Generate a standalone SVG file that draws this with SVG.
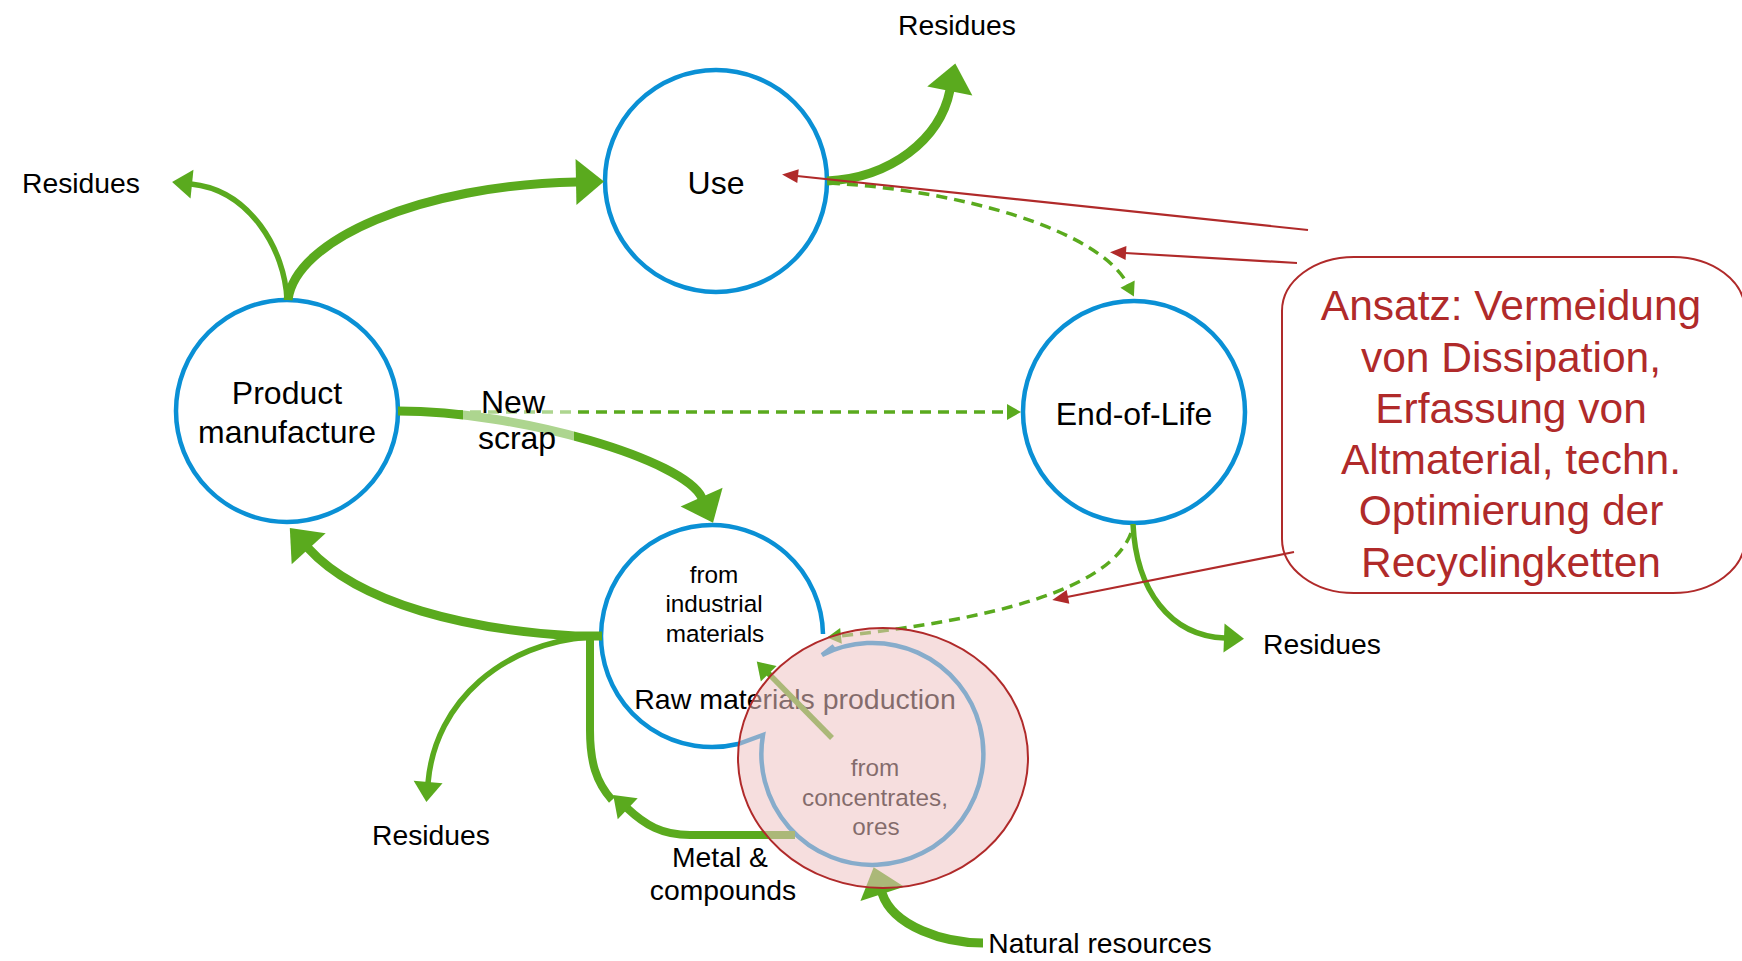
<svg xmlns="http://www.w3.org/2000/svg" width="1742" height="961" viewBox="0 0 1742 961">
<defs>
<style>
.node{fill:#fff;stroke:#0a90d5;stroke-width:4.5}
.arc{fill:none;stroke:#0a90d5;stroke-width:4.5}
.flow{fill:none;stroke:#5aaa1e}
.thick{stroke-width:9}
.mid{stroke-width:5.5}
.dash{stroke-width:3.5;stroke-dasharray:11 7}
.red{fill:none;stroke:#b02a2a;stroke-width:2.2}
text{font-family:"Liberation Sans",Arial,Helvetica,sans-serif;fill:#000;text-anchor:middle}
.lbl{font-size:32px}
.res{font-size:28.3px}
.small{font-size:24.3px}
.call{font-size:42.5px;fill:#b02a2a}
</style>
<marker id="ahBig" markerUnits="userSpaceOnUse" markerWidth="28" markerHeight="46" refX="1" refY="23" orient="auto" overflow="visible"><path d="M0,0 L28,23 L0,46 Z" fill="#5aaa1e"/></marker>
<marker id="ahMed" markerUnits="userSpaceOnUse" markerWidth="20" markerHeight="29" refX="1" refY="14.5" orient="auto" overflow="visible"><path d="M0,0 L20,14.5 L0,29 Z" fill="#5aaa1e"/></marker>
<marker id="ahInner" markerUnits="userSpaceOnUse" markerWidth="17" markerHeight="22" refX="1" refY="11" orient="auto" overflow="visible"><path d="M0,0 L17,11 L0,22 Z" fill="#5aaa1e"/></marker>
<marker id="ahSm" markerUnits="userSpaceOnUse" markerWidth="14" markerHeight="16" refX="1" refY="8" orient="auto" overflow="visible"><path d="M0,0 L14,8 L0,16 Z" fill="#5aaa1e"/></marker>
<marker id="ahRed" markerUnits="userSpaceOnUse" markerWidth="16" markerHeight="14" refX="1" refY="7" orient="auto" overflow="visible"><path d="M0,0 L16,7 L0,14 Z" fill="#b02a2a"/></marker>
</defs>
<rect width="1742" height="961" fill="#fff"/>

<g id="node-use">
<circle class="node" cx="716" cy="181" r="111"/>
<text class="lbl" x="716" y="194">Use</text>
</g>
<g id="node-product">
<circle class="node" cx="287" cy="411" r="111"/>
<text class="lbl" x="287" y="404">Product</text>
<text class="lbl" x="287" y="443">manufacture</text>
</g>
<g id="node-eol">
<circle class="node" cx="1134" cy="412" r="111"/>
<text class="lbl" x="1134" y="425">End-of-Life</text>
</g>
<g id="node-raw">
<path class="arc" d="M823,634 A111,111 0 1 0 738,744 L763,735 A111,111 0 1 0 822,655 L834,646"/>
<text class="small" x="714" y="583">from</text>
<text class="small" x="714" y="612">industrial</text>
<text class="small" x="715" y="642">materials</text>
<text x="795" y="709" style="font-size:28.5px">Raw materials production</text>
<text class="small" x="875" y="776">from</text>
<text class="small" x="875" y="806">concentrates,</text>
<text class="small" x="876" y="835">ores</text>
</g>

<g id="connectors">
<path class="flow thick" d="M288,300 C295,240 420,185 577,182" marker-end="url(#ahBig)"/>
<path class="flow mid" d="M287,300 C285,250 250,190 191,184" marker-end="url(#ahMed)"/>
<path class="flow thick" d="M827,181 C890,178 940,140 950,90" marker-end="url(#ahBig)"/>
<path class="flow dash" d="M829,183 C960,190 1100,230 1128,285" marker-end="url(#ahSm)"/>
<path class="flow dash" d="M398,412 L1008,412" marker-end="url(#ahSm)"/>
<path class="flow thick" d="M398,411 C520,411 685,460 702,498" marker-end="url(#ahBig)"/>
<path class="flow thick" d="M602,636 L575,636 C470,630 360,605 308,548" marker-end="url(#ahBig)"/>
<path class="flow mid" d="M589,637 C505,643 435,700 428,783" marker-end="url(#ahMed)"/>
<path class="flow" style="stroke-width:8" d="M795,835 L690,835 C662,835 645,825 627,808" marker-end="url(#ahMed)"/>
<path class="flow" style="stroke-width:8" d="M612,800 C596,782 590,762 590,730 L590,632"/>
<path class="flow thick" d="M983,943 C945,943 893,927 882,893" marker-end="url(#ahBig)"/>
<path class="flow mid" d="M832,738 L768,673" marker-end="url(#ahInner)"/>
<path class="flow mid" d="M1133,524 C1136,590 1170,636 1225,638" marker-end="url(#ahMed)"/>
<path class="flow dash" d="M1131,533 C1110,590 990,620 840,636" marker-end="url(#ahSm)"/>
</g>

<g id="label-newscrap">
<rect x="463" y="390" width="111" height="64" fill="#fff" fill-opacity="0.5"/>
<text class="lbl" x="513" y="413">New</text>
<text class="lbl" x="517" y="449">scrap</text>
</g>
<g id="label-metal">
<text class="res" x="720" y="867">Metal &amp;</text>
<text class="res" x="723" y="900">compounds</text>
</g>
<g id="residues-top"><text class="res" x="957" y="35">Residues</text></g>
<g id="residues-left"><text class="res" x="81" y="193">Residues</text></g>
<g id="residues-bottom"><text class="res" x="431" y="845">Residues</text></g>
<g id="residues-right"><text class="res" x="1322" y="654">Residues</text></g>
<g id="natural-resources"><text class="res" x="1100" y="953">Natural resources</text></g>

<g id="highlight">
<ellipse cx="883" cy="758" rx="145" ry="130" fill="#eec3c3" fill-opacity="0.55" stroke="#b02a2a" stroke-width="2"/>
</g>

<g id="callout">
<rect x="1282" y="257" width="463" height="336" rx="72" ry="54" fill="#fff" stroke="#b02a2a" stroke-width="2"/>
<text class="call" x="1511" y="320">Ansatz: Vermeidung</text>
<text class="call" x="1511" y="372">von Dissipation,</text>
<text class="call" x="1511" y="423">Erfassung von</text>
<text class="call" x="1511" y="474">Altmaterial, techn.</text>
<text class="call" x="1511" y="525">Optimierung der</text>
<text class="call" x="1511" y="577">Recyclingketten</text>
</g>

<g id="red-connectors">
<path class="red" d="M1308,230 L797,176" marker-end="url(#ahRed)"/>
<path class="red" d="M1297,263 L1125,253" marker-end="url(#ahRed)"/>
<path class="red" d="M1294,552 L1067,597" marker-end="url(#ahRed)"/>
</g>
</svg>
